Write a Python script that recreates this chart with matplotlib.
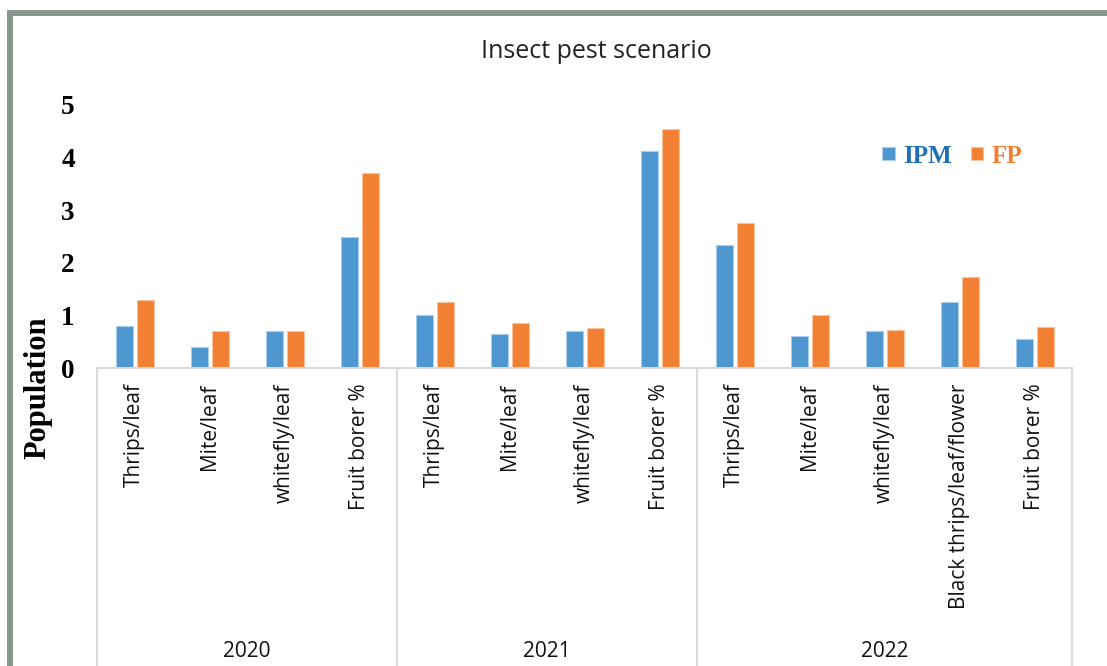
import matplotlib
matplotlib.use("Agg")
import matplotlib.pyplot as plt
import numpy as np
from matplotlib.patches import Rectangle
from matplotlib.lines import Line2D
import matplotlib.transforms as mtransforms

# ---- data ----
years = ["2020", "2021", "2022"]
pests_2020 = ["Thrips/leaf", "Mite/leaf", "whitefly/leaf", "Fruit borer %"]
pests_2021 = ["Thrips/leaf", "Mite/leaf", "whitefly/leaf", "Fruit borer %"]
pests_2022 = ["Thrips/leaf", "Mite/leaf", "whitefly/leaf", "Black thrips/leaf/flower", "Fruit borer %"]
ipm_2020 = [0.8, 0.4, 0.7, 2.5]
fp_2020 = [1.3, 0.7, 0.7, 3.7]
ipm_2021 = [1.0, 0.65, 0.7, 4.12]
fp_2021 = [1.25, 0.85, 0.76, 4.54]
ipm_2022 = [2.34, 0.61, 0.7, 1.25, 0.55]
fp_2022 = [2.76, 1.0, 0.72, 1.73, 0.78]
yticks = [0, 1, 2, 3, 4, 5]

W, H = 1107, 666
fig = plt.figure(figsize=(W / 100, H / 100), dpi=100)
fig.patch.set_facecolor("white")

def fx(px):
    return px / W

def fy(py):
    return 1 - py / H

ax = fig.add_axes([fx(97), fy(368), fx(1072) - fx(97), fy(105) - fy(368)])

labels = pests_2020 + pests_2021 + pests_2022
ipm = ipm_2020 + ipm_2021 + ipm_2022
fp = fp_2020 + fp_2021 + fp_2022
groups = [pests_2020, pests_2021, pests_2022]
x = np.arange(len(labels))

blue = "#4e97d1"
orange = "#f28033"
bw = 0.225
b1 = ax.bar(x - 0.138, ipm, bw, color=blue, edgecolor="#a9cdee", linewidth=0.8, label="IPM")
b2 = ax.bar(x + 0.146, fp, bw, color=orange, edgecolor="#f9c29c", linewidth=0.8, label="FP")

ax.set_xlim(-0.5, len(labels) - 0.5)
ax.set_ylim(0, 5)
for s in ["top", "right", "left"]:
    ax.spines[s].set_visible(False)
ax.spines["bottom"].set_color("#d9d9d9")
ax.spines["bottom"].set_linewidth(1.5)

ax.set_yticks(yticks)
ax.set_yticklabels([str(v) for v in yticks], fontfamily="Liberation Serif",
                   fontweight="bold", fontsize=19.5)
ax.tick_params(axis="y", length=0, pad=16)

ax.set_xticks(x)
ax.set_xticklabels(labels, rotation=90, fontfamily="Open Sans", fontsize=15,
                   color="#111111", va="top", ha="center")
ax.tick_params(axis="x", length=0, pad=11)

# group separators and year labels
trans = mtransforms.blended_transform_factory(ax.transData, fig.transFigure)
edges = [-0.5]
for g in groups:
    edges.append(edges[-1] + len(g))
for e in edges:
    fig.add_artist(Line2D([e, e], [0, fy(368)], transform=trans,
                          color="#d9d9d9", linewidth=1.5))
for i, yr in enumerate(years):
    c = (edges[i] + edges[i + 1]) / 2
    fig.text(c, fy(657), yr, transform=trans, ha="center", va="baseline",
             fontfamily="Open Sans", fontsize=15, color="#111111")

# title and axis label
fig.text(fx(596), fy(52), "Insect pest scenario", ha="center", va="center",
         fontfamily="Open Sans", fontsize=18, color="#222222")
fig.text(fx(38), fy(388), "Population", rotation=90, ha="center", va="center",
         fontfamily="Liberation Serif", fontweight="bold", fontsize=22, color="black")

# legend
leg = ax.legend(handles=[b1, b2], labels=["IPM", "FP"], ncol=2, frameon=False,
                loc="center left", bbox_to_anchor=(fx(882), fy(156)),
                bbox_transform=fig.transFigure,
                prop={"family": "Liberation Serif", "weight": "bold", "size": 18},
                labelcolor=["#1f6fb6", "#f07f32"],
                handlelength=0.5, handleheight=0.45, handletextpad=0.35,
                columnspacing=0.75, borderpad=0, borderaxespad=0)

# outer border (top and left)
border = "#87998f"
fig.add_artist(Rectangle((fx(7), fy(16)), 1 - fx(7), fy(10) - fy(16),
                         transform=fig.transFigure, facecolor=border, edgecolor="none"))
fig.add_artist(Rectangle((fx(7), 0), fx(13) - fx(7), fy(10),
                         transform=fig.transFigure, facecolor=border, edgecolor="none"))

fig.savefig("out.png", dpi=100, facecolor="white")
